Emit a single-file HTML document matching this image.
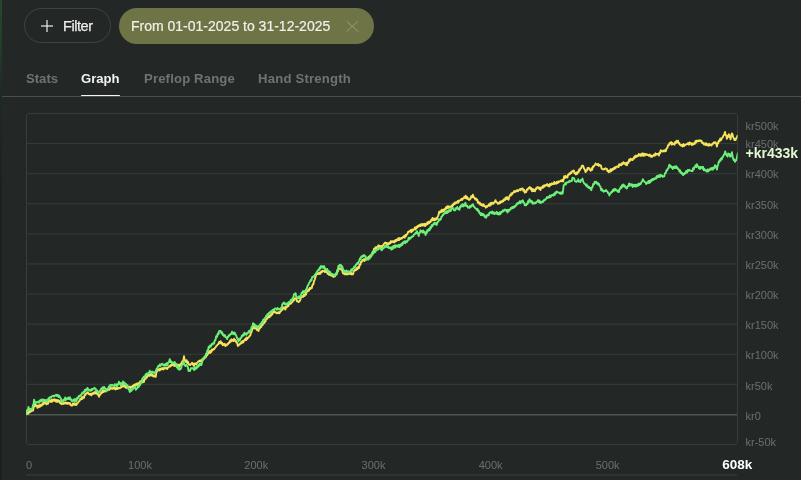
<!DOCTYPE html>
<html><head><meta charset="utf-8">
<style>
*{margin:0;padding:0;box-sizing:border-box}
html,body{width:801px;height:480px;overflow:hidden;background:#232826}
body{position:relative;-webkit-font-smoothing:antialiased;font-family:"Liberation Sans",Arial,sans-serif;color:#e8e8e6}
.strip{position:absolute;left:0;top:0;width:2px;height:480px;background:linear-gradient(#24472f 0px,#22402c 40px,#1e2a25 90px,#1b201f 200px,#1b201f 480px)}
.filter{position:absolute;left:24px;top:8px;width:87px;height:35px;border:1px solid #3f4442;border-radius:18px}
.filter .plus{position:absolute;left:16px;top:11px;width:12px;height:12px}
.filter .plus:before{content:"";position:absolute;left:5.1px;top:-0.2px;width:1.9px;height:12.4px;background:rgba(235,237,235,.6)}
.filter .plus:after{content:"";position:absolute;left:-0.2px;top:4.95px;width:12.4px;height:1.9px;background:rgba(235,237,235,.6)}
.filter span{will-change:transform;position:absolute;left:38.4px;top:8px;font-size:14.5px;letter-spacing:-0.45px;line-height:18px;color:#ededeb;-webkit-text-stroke:0.25px #ededeb}
.date{position:absolute;left:119px;top:8px;width:255px;height:36px;background:#6e7446;border-radius:18px}
.date span{will-change:transform;position:absolute;left:11.7px;top:10.1px;font-size:14px;line-height:17px;color:#f1f1ea;white-space:nowrap;-webkit-text-stroke:0.2px #f1f1ea}
.date .x{position:absolute;left:233.35px;top:18.25px;width:0;height:0}
.date .x:before,.date .x:after{content:"";position:absolute;left:-7.3px;top:-0.72px;width:14.6px;height:1.45px;background:#8f9566;transform:rotate(42deg)}
.date .x:after{transform:rotate(-42deg)}
.tab{will-change:transform;position:absolute;top:70.7px;font-size:13.1px;font-weight:bold;line-height:16px;color:#6f7472;white-space:nowrap}
.tab.on{color:#f2f2f0}
.sep{position:absolute;left:2px;top:96px;width:799px;height:1px;background:#4a4f4d}
.ul{position:absolute;left:81px;top:94.6px;width:39px;height:1.6px;background:#f4f4f2;border-radius:1px}
svg{position:absolute;left:0;top:0;will-change:transform}
</style></head><body>
<div class="strip"></div>
<div class="filter"><i class="plus"></i><span>Filter</span></div>
<div class="date"><span>From 01-01-2025 to 31-12-2025</span><i class="x"></i></div>
<div class="tab" style="left:26px">Stats</div>
<div class="tab on" style="left:81px">Graph</div>
<div class="tab" style="left:143.6px;letter-spacing:0.17px">Preflop Range</div>
<div class="tab" style="left:258px;letter-spacing:0.22px">Hand Strength</div>
<div class="sep"></div>
<div class="ul"></div>
<svg width="801" height="480" viewBox="0 0 801 480">
<rect x="26.5" y="113.5" width="711" height="331" rx="2" fill="none" stroke="#383d3b" stroke-width="1"/>
<line x1="26.5" y1="143.59" x2="737" y2="143.59" stroke="#383d3b" stroke-width="1"/>
<line x1="26.5" y1="173.68" x2="737" y2="173.68" stroke="#383d3b" stroke-width="1"/>
<line x1="26.5" y1="203.77" x2="737" y2="203.77" stroke="#383d3b" stroke-width="1"/>
<line x1="26.5" y1="233.86" x2="737" y2="233.86" stroke="#383d3b" stroke-width="1"/>
<line x1="26.5" y1="263.95" x2="737" y2="263.95" stroke="#383d3b" stroke-width="1"/>
<line x1="26.5" y1="294.04" x2="737" y2="294.04" stroke="#383d3b" stroke-width="1"/>
<line x1="26.5" y1="324.13" x2="737" y2="324.13" stroke="#383d3b" stroke-width="1"/>
<line x1="26.5" y1="354.22" x2="737" y2="354.22" stroke="#383d3b" stroke-width="1"/>
<line x1="26.5" y1="384.31" x2="737" y2="384.31" stroke="#383d3b" stroke-width="1"/>
<line x1="26.5" y1="414.80" x2="737" y2="414.80" stroke="#4f5452" stroke-width="1.6"/>
<line x1="26" y1="474.9" x2="737" y2="474.9" stroke="#333836" stroke-width="1.5"/>
<defs><clipPath id="c"><rect x="26" y="100" width="711.6" height="350"/></clipPath></defs>
<g clip-path="url(#c)">
<polyline points="26.2,414.2 27.0,414.0 27.8,412.2 28.5,413.6 29.2,410.8 30.0,412.1 30.8,410.9 31.5,411.3 32.2,410.3 33.0,410.7 33.8,406.8 34.5,406.5 35.2,403.8 36.0,405.9 36.8,405.6 37.5,407.9 38.2,405.4 39.0,407.1 39.8,405.1 40.5,406.5 41.2,404.5 42.0,405.5 42.8,403.3 43.5,404.3 44.2,401.4 45.0,403.3 45.8,402.6 46.5,404.4 47.2,402.3 48.0,403.8 48.8,401.0 49.5,401.5 50.2,400.6 51.0,401.9 51.8,399.5 52.5,401.5 53.2,399.6 54.0,400.6 54.8,399.3 55.5,401.4 56.2,399.8 57.0,402.0 57.8,399.9 58.5,401.5 59.2,400.7 60.0,403.1 60.8,402.2 61.5,404.2 62.2,403.3 63.0,404.1 63.8,402.6 64.5,403.6 65.2,402.4 66.0,403.6 66.8,402.5 67.5,403.8 68.2,402.7 69.0,403.8 69.8,402.9 70.5,404.9 71.2,405.5 72.0,405.6 72.8,403.4 73.5,404.8 74.2,403.2 75.0,404.9 75.8,403.6 76.5,405.0 77.2,403.1 78.0,402.9 78.8,401.4 79.5,400.8 80.2,399.0 80.9,399.5 81.6,397.7 82.3,399.0 83.0,396.9 84.0,397.8 84.8,394.4 85.5,394.9 86.2,393.2 87.0,393.2 87.8,392.2 88.5,393.9 89.2,393.6 90.0,394.7 90.8,393.7 91.5,395.3 92.2,393.2 93.0,394.1 93.8,392.6 94.5,393.5 95.2,391.6 96.0,393.6 96.8,392.7 97.5,394.5 98.2,394.0 99.0,396.8 99.8,394.4 100.5,394.6 101.2,392.1 102.0,392.9 102.8,390.6 103.5,392.1 104.2,390.3 105.0,391.5 105.8,390.0 106.5,390.7 107.2,389.1 108.0,390.0 108.8,387.9 109.5,389.8 110.2,387.6 111.0,388.8 111.8,388.0 112.5,388.8 113.2,387.7 114.0,388.8 114.8,387.6 115.5,389.4 116.2,387.8 117.0,389.1 117.8,387.8 118.5,388.6 119.2,387.8 120.0,388.2 120.8,387.1 121.5,387.2 122.2,385.6 123.0,386.6 123.8,384.6 124.5,386.8 125.2,385.8 126.0,388.0 126.8,386.4 127.5,387.1 128.2,386.8 129.0,387.5 129.8,386.6 130.5,388.2 131.2,386.7 132.0,387.6 132.8,385.7 133.5,386.7 134.2,384.6 135.0,385.8 135.8,384.1 136.5,385.3 137.2,383.3 138.0,385.3 138.8,383.0 139.5,383.9 140.2,381.2 141.0,382.8 141.8,380.4 142.5,382.4 143.2,379.9 144.0,381.9 144.8,378.4 145.7,378.8 146.3,376.8 146.9,377.6 147.6,375.4 148.2,375.5 148.8,374.7 149.4,376.0 150.1,374.2 150.7,375.2 151.3,373.9 151.9,375.7 152.6,374.6 153.2,376.4 153.8,376.0 154.4,376.4 155.1,375.3 155.7,376.8 156.5,371.8 157.3,371.1 157.9,369.3 158.6,370.3 159.2,369.1 159.8,370.4 160.4,368.7 161.1,369.5 161.7,368.2 162.3,369.0 162.9,368.1 163.6,369.5 164.2,368.0 164.8,368.1 165.4,367.9 166.1,368.6 166.7,367.9 167.3,368.9 168.2,367.1 169.0,366.8 169.6,365.8 170.2,366.5 170.9,364.9 171.5,365.5 172.1,363.9 172.8,364.9 173.4,364.5 174.0,365.8 174.6,364.3 175.2,366.0 175.9,365.0 176.5,365.9 177.1,364.3 177.8,366.0 178.4,364.8 179.0,366.7 179.6,364.7 180.2,365.9 180.9,363.4 181.5,363.9 182.3,361.2 183.2,361.1 184.0,356.3 184.6,360.0 185.2,360.4 185.9,362.0 186.6,360.2 187.3,363.0 188.0,361.8 188.7,364.6 189.4,364.5 190.1,365.2 190.8,364.0 191.5,363.7 192.1,362.7 192.8,364.6 193.4,363.7 194.0,366.1 194.6,363.5 195.2,364.3 195.9,363.2 196.5,364.2 197.1,362.7 197.8,362.3 198.4,361.2 199.0,361.2 199.6,360.6 200.2,361.5 200.9,360.3 201.5,361.6 202.2,359.2 202.9,359.8 203.6,358.3 204.3,358.8 205.1,356.9 205.8,357.3 206.5,355.4 207.2,355.3 208.0,353.7 208.7,353.1 209.3,351.2 210.0,353.0 210.6,350.8 211.3,351.9 211.9,349.5 212.6,350.3 213.4,349.0 214.1,349.3 214.8,348.0 215.5,347.4 216.2,346.1 217.0,345.5 217.8,344.3 218.5,344.1 219.2,341.9 220.0,343.0 220.7,341.2 221.4,343.8 222.1,342.8 222.8,345.2 223.4,344.1 224.1,344.7 224.7,343.8 225.3,346.0 226.0,345.2 226.7,345.4 227.3,343.9 228.0,344.2 228.7,342.5 229.4,342.8 230.1,340.5 230.7,341.8 231.4,339.3 232.1,340.7 232.8,339.7 233.4,341.1 234.1,338.7 234.8,340.8 235.6,340.1 236.3,342.4 237.1,342.9 237.9,346.0 238.6,344.6 239.4,344.7 240.1,343.4 240.7,343.8 241.4,341.7 242.0,343.0 242.7,340.9 243.3,342.4 244.0,340.3 244.8,340.4 245.5,338.6 246.2,340.1 246.8,337.5 247.4,338.9 248.1,337.6 248.8,337.4 249.5,335.9 250.2,335.7 250.9,333.0 251.6,331.7 252.4,328.1 253.1,328.4 253.8,326.3 254.4,328.4 255.1,327.8 255.8,328.8 256.5,327.9 257.1,330.2 257.8,329.2 258.5,331.0 259.2,328.1 259.9,328.4 260.6,326.4 261.3,327.0 262.0,324.5 262.7,325.0 263.4,323.2 264.1,323.3 264.7,321.1 265.4,321.7 266.1,319.3 266.8,319.1 267.4,317.2 268.1,317.7 268.9,315.9 269.6,317.2 270.2,315.1 270.9,315.8 271.6,313.2 272.3,314.4 272.9,312.0 273.6,312.4 274.3,310.7 275.1,312.4 275.8,312.1 276.6,313.2 277.3,312.8 278.0,313.3 278.8,312.1 279.5,313.2 280.2,311.8 280.9,311.3 281.6,309.2 282.4,309.9 283.1,307.2 283.9,308.5 284.6,307.2 285.4,309.5 286.1,306.8 286.9,307.2 287.6,305.7 288.3,306.2 289.0,304.1 289.7,304.1 290.4,302.5 291.1,303.5 291.9,302.1 292.6,301.9 293.3,300.0 294.0,300.3 294.7,298.2 295.4,298.4 296.2,298.6 296.9,301.2 297.7,301.2 298.5,302.0 299.4,301.4 300.2,300.1 301.0,297.4 301.8,297.0 302.5,296.2 303.2,296.8 303.9,294.5 304.6,296.0 305.3,294.1 306.0,294.5 306.8,291.1 307.5,291.3 308.2,289.6 308.9,290.8 309.6,288.0 310.4,289.1 311.1,287.6 311.8,288.0 312.6,284.4 313.3,284.5 314.0,281.2 314.8,279.6 315.6,276.4 316.4,274.3 317.1,273.2 317.7,274.1 318.4,273.0 319.1,274.0 319.8,272.5 320.4,273.8 321.1,271.5 321.8,272.3 322.4,270.7 323.1,271.1 323.8,270.8 324.6,272.0 325.3,270.6 326.0,272.0 326.8,271.2 327.6,273.9 328.4,273.5 329.1,274.9 329.9,273.8 330.6,275.3 331.3,274.9 332.0,276.0 332.7,274.9 333.4,276.9 334.1,275.4 334.9,276.5 335.7,274.0 336.5,274.6 337.3,272.3 338.1,271.0 338.9,268.3 339.7,268.9 340.5,268.5 341.3,269.9 342.1,270.0 342.9,273.3 343.7,272.9 344.4,274.3 345.1,273.4 345.9,274.3 346.6,273.3 347.3,274.5 348.1,273.5 348.8,273.9 349.5,272.4 350.2,274.1 350.9,272.4 351.7,274.4 352.4,273.7 353.0,274.3 353.7,271.2 354.3,270.9 355.1,269.3 355.9,270.3 356.7,268.1 357.5,269.3 358.3,266.6 359.1,267.9 359.7,264.5 360.4,264.7 361.0,261.8 361.7,261.9 362.4,259.9 363.2,260.6 363.9,259.3 364.7,260.9 365.5,258.1 366.2,259.6 367.1,258.0 367.8,258.5 368.6,256.7 369.4,257.4 370.1,255.6 370.8,256.5 371.5,254.6 372.1,253.6 372.8,251.5 373.4,252.3 374.1,248.6 374.8,249.1 375.5,247.3 376.2,248.4 376.9,246.9 377.7,246.9 378.4,245.3 379.1,247.5 379.8,245.8 380.6,247.4 381.3,246.1 382.0,247.0 382.7,245.4 383.4,245.0 384.1,243.6 384.8,243.0 385.5,242.5 386.2,243.8 386.9,243.0 387.6,244.5 388.3,243.5 389.0,244.1 389.6,242.4 390.3,243.2 391.0,241.1 391.8,242.2 392.5,241.3 393.3,242.2 394.0,240.9 394.7,242.3 395.4,240.0 396.2,241.1 396.9,239.5 397.6,240.3 398.3,238.1 399.1,240.2 399.8,238.1 400.6,239.0 401.3,237.9 402.0,238.4 402.6,237.3 403.3,237.4 404.0,236.1 404.7,237.7 405.4,235.0 406.1,236.0 406.8,234.3 407.4,234.1 408.0,231.9 408.6,232.0 409.3,231.0 410.0,231.5 410.7,230.1 411.4,232.2 412.1,229.5 412.8,230.9 413.4,229.6 414.1,229.6 414.8,227.6 415.5,229.5 416.2,227.0 416.9,227.9 417.6,225.9 418.2,226.7 418.9,225.2 419.6,226.3 420.3,224.5 421.0,225.9 421.7,224.1 422.4,225.4 423.1,224.1 423.8,225.5 424.4,223.7 425.1,226.1 425.8,224.1 426.5,224.8 427.2,222.4 427.9,224.0 428.6,221.6 429.2,223.2 429.9,221.4 430.6,221.9 431.2,219.7 431.9,220.4 432.5,217.9 433.1,220.4 433.8,218.7 434.4,220.2 435.0,218.6 435.6,220.0 436.2,218.1 436.9,219.1 437.5,217.1 438.4,215.3 439.2,211.7 439.8,213.0 440.4,211.3 441.1,212.0 441.7,209.7 442.4,211.7 443.1,209.8 443.9,211.2 444.6,208.9 445.3,209.4 446.0,207.2 446.7,208.4 447.4,206.1 448.1,208.1 448.9,206.3 449.6,207.6 450.2,206.6 450.9,206.8 451.5,205.7 452.1,206.5 452.7,204.5 453.4,205.3 454.0,203.3 454.6,204.1 455.2,202.3 455.9,203.3 456.5,202.3 457.1,202.7 457.7,201.1 458.4,202.6 459.0,200.5 459.6,200.8 460.2,200.2 460.9,199.8 461.5,198.8 462.1,200.0 462.8,198.5 463.6,198.5 464.3,196.8 465.0,197.9 465.7,195.7 466.4,198.5 467.1,196.9 467.7,199.0 468.4,198.4 469.0,200.0 469.6,199.6 470.4,198.9 471.2,196.2 472.1,197.2 472.9,194.7 473.8,197.5 474.6,197.8 475.3,199.4 476.0,198.5 476.7,200.2 477.3,199.6 477.9,202.9 478.6,202.2 479.2,203.6 479.8,202.6 480.4,204.9 481.1,204.0 481.7,205.3 482.3,204.4 482.9,206.0 483.6,204.3 484.2,206.0 485.0,206.0 485.8,207.7 486.4,206.2 487.1,206.9 487.7,205.8 488.3,205.9 489.0,204.2 489.8,205.8 490.5,203.0 491.1,204.8 491.8,202.7 492.4,203.7 493.0,203.0 493.6,203.7 494.2,202.2 494.9,201.8 495.5,200.2 496.2,202.1 497.0,202.3 497.8,203.8 498.5,202.9 499.1,203.5 499.8,201.8 500.4,202.9 501.0,201.3 501.8,202.0 502.5,200.6 503.2,201.4 504.0,199.3 504.8,200.2 505.5,197.7 506.2,199.1 507.0,197.1 507.8,199.2 508.5,199.7 509.5,196.1 510.1,194.9 510.8,195.6 511.4,193.3 512.0,194.5 512.8,192.6 513.5,192.6 514.2,191.0 515.0,192.1 515.8,190.8 516.5,191.2 517.2,190.0 518.0,191.2 518.7,190.1 519.3,190.0 520.0,189.1 520.7,190.2 521.3,188.6 522.0,188.7 522.7,188.5 523.4,190.9 524.1,189.9 524.8,192.7 525.5,191.6 526.2,192.0 526.9,189.5 527.6,189.7 528.3,188.4 529.0,187.7 529.8,187.1 530.5,189.3 531.2,188.1 532.0,191.3 532.8,188.9 533.5,191.1 534.2,189.8 535.0,191.3 535.8,188.4 536.5,188.9 537.2,187.2 538.0,187.3 538.6,187.6 539.2,188.9 539.9,187.6 540.5,190.1 541.2,187.5 542.0,187.9 542.8,186.1 543.5,187.6 544.2,185.1 545.0,186.3 545.8,185.0 546.5,185.2 547.2,184.0 548.0,185.9 548.5,184.9 549.1,186.5 549.9,183.9 550.7,185.3 551.5,183.4 552.2,184.3 552.9,183.4 553.6,184.1 554.3,182.0 555.0,183.7 555.7,182.7 556.4,183.8 557.1,181.6 557.8,183.0 558.5,181.4 559.2,181.9 559.9,181.1 560.6,181.2 561.2,180.3 561.9,181.2 562.6,179.7 563.2,181.4 564.2,176.3 564.9,178.0 565.5,176.0 566.1,177.4 566.8,176.6 567.4,177.4 568.1,174.6 568.7,174.8 569.4,173.3 570.0,174.1 570.8,172.3 571.5,173.0 572.3,171.0 573.1,170.9 573.8,170.5 574.5,173.2 575.2,172.7 575.9,174.4 576.6,172.6 577.2,174.0 577.9,171.8 578.6,172.3 579.2,169.5 579.9,170.2 580.5,168.1 581.2,168.1 581.9,165.8 582.5,165.5 583.2,166.0 584.0,168.5 584.8,169.7 585.6,172.1 586.2,170.3 586.9,170.6 587.6,167.9 588.2,168.3 588.9,167.9 589.5,169.7 590.1,169.6 590.8,170.8 591.5,168.3 592.2,169.8 592.9,166.5 593.5,167.0 594.2,165.6 594.9,165.0 595.5,163.5 596.1,164.6 596.8,164.3 597.5,165.0 598.1,163.8 598.8,165.9 599.5,164.8 600.2,165.2 600.9,165.5 601.6,168.5 602.2,169.0 603.1,169.5 604.0,169.0 604.7,169.3 605.3,168.3 606.0,168.7 606.7,168.6 607.4,171.1 608.0,170.5 608.7,172.2 609.4,170.6 610.1,171.8 610.7,169.2 611.4,171.0 612.1,168.9 612.8,169.9 613.5,168.2 614.2,169.0 614.8,167.2 615.5,168.3 616.2,166.8 617.0,166.8 617.7,166.3 618.5,167.0 619.2,164.1 620.0,165.3 620.7,164.3 621.4,165.2 622.0,163.1 622.7,164.0 623.4,162.2 624.1,163.4 624.8,163.1 625.5,164.7 626.2,162.8 626.9,165.3 627.7,162.3 628.4,162.9 629.2,159.4 629.9,160.9 630.6,158.7 631.2,159.8 631.9,159.2 632.6,160.0 633.3,158.3 634.0,158.6 634.6,156.3 635.3,157.4 636.0,155.6 636.7,156.7 637.4,155.4 638.1,156.0 638.8,154.0 639.5,155.6 640.2,154.4 640.9,155.9 641.5,153.6 642.2,155.6 642.9,153.3 643.6,155.8 644.3,153.8 644.9,155.6 645.6,153.9 646.3,154.8 647.0,154.3 647.7,155.1 648.4,154.9 649.1,155.8 649.8,154.6 650.5,156.6 651.2,155.6 651.9,156.9 652.6,155.8 653.3,155.9 654.0,154.6 654.8,155.8 655.5,153.3 656.2,154.7 656.9,153.9 657.5,154.3 658.2,153.8 658.9,155.5 659.5,152.7 660.1,153.2 660.7,150.2 661.4,151.3 662.1,150.7 662.8,151.5 663.5,150.6 664.3,151.4 665.0,150.1 665.8,151.2 666.6,148.4 667.3,148.0 668.1,145.1 668.9,145.2 669.6,143.0 670.4,143.6 671.1,142.1 671.8,144.7 672.4,142.9 673.1,144.0 673.8,143.7 674.5,144.7 675.2,141.9 675.9,143.1 676.6,140.8 677.3,142.1 678.0,140.7 678.6,143.6 679.3,143.0 680.0,144.8 680.6,145.1 681.3,145.8 681.9,144.8 682.7,146.5 683.5,144.1 684.2,146.1 685.0,144.8 685.8,144.7 686.5,144.1 687.2,144.1 688.0,143.0 688.8,144.7 689.5,142.5 690.2,143.9 691.0,143.0 691.8,145.0 692.5,143.5 693.2,144.5 694.0,143.1 694.8,143.9 695.5,141.0 696.2,142.5 697.0,140.6 697.8,141.2 698.5,140.6 699.2,141.1 700.0,140.2 700.8,141.3 701.5,140.8 702.3,143.2 703.1,142.7 703.9,144.4 704.6,143.5 705.4,145.0 706.1,143.2 706.9,145.2 707.7,144.2 708.5,145.7 709.2,143.8 710.0,145.4 710.8,144.6 711.5,145.5 712.3,143.8 713.1,143.9 713.7,142.6 714.4,143.0 715.0,142.1 715.6,142.3 716.2,143.6 716.9,146.6 717.5,143.3 718.1,143.4 718.8,140.6 719.5,141.3 720.3,138.4 721.1,140.2 721.9,138.1 722.7,137.3 723.5,135.4 724.2,134.8 725.0,131.9 725.6,135.1 726.3,135.5 726.9,138.8 727.5,135.8 728.1,137.0 728.8,134.2 729.4,136.9 730.0,137.3 730.6,139.4 731.2,135.1 731.9,133.4 732.5,134.2 733.1,137.1 733.8,138.3 734.4,140.0 735.0,138.9 735.6,140.1 736.2,138.1 736.9,137.5 737.5,135.6" fill="none" stroke="#f5e35c" stroke-width="1.9" stroke-linejoin="round" stroke-linecap="round"/>
<polyline points="26.2,414.2 26.2,411.9 27.0,410.3 27.8,410.6 28.5,407.0 29.2,409.8 30.0,408.8 30.8,409.5 31.5,408.7 32.2,408.9 33.0,405.0 33.5,404.1 34.1,399.8 34.7,401.9 35.2,401.8 36.0,402.8 36.8,402.1 37.5,402.5 38.2,401.6 39.0,402.8 39.8,400.4 40.5,401.6 41.2,399.6 42.0,401.5 42.8,399.4 43.5,400.0 44.2,399.7 45.0,401.0 45.8,400.1 46.5,401.8 47.2,399.6 48.0,399.8 48.8,398.0 49.5,399.0 50.2,397.0 51.0,397.3 51.8,396.3 52.5,396.0 53.2,395.7 54.0,396.5 54.8,395.5 55.5,395.5 56.2,394.7 57.0,396.0 57.8,394.8 58.5,397.0 59.2,395.7 60.0,397.4 60.8,398.3 61.5,401.8 62.2,400.3 63.0,401.4 63.8,399.5 64.5,400.3 65.2,397.5 66.0,399.9 66.8,398.4 67.5,398.9 68.2,397.6 69.0,399.1 69.8,397.2 70.5,399.7 71.2,399.2 72.0,401.3 72.8,400.2 73.5,400.8 74.2,399.2 75.0,401.3 75.8,398.9 76.5,401.1 77.2,397.7 78.0,398.4 78.8,396.0 79.5,396.4 80.2,395.2 81.0,395.9 81.8,393.2 82.5,393.5 83.2,392.1 84.0,392.7 84.8,389.9 85.5,391.2 86.1,389.1 86.8,390.2 87.4,387.9 88.0,389.6 88.6,389.3 89.2,390.7 90.0,390.1 90.8,390.8 91.5,389.1 92.2,390.0 93.0,388.7 93.8,388.8 94.5,387.8 95.1,388.8 95.8,389.0 96.4,391.0 97.1,390.3 97.9,392.3 98.6,391.9 99.2,392.0 99.9,390.7 100.5,390.4 101.2,388.5 102.0,389.3 102.8,387.2 103.5,388.8 104.2,387.0 105.0,388.4 105.8,388.8 106.5,391.4 107.2,389.3 108.0,389.0 108.8,386.6 109.5,387.9 110.2,385.0 111.0,385.9 111.8,384.7 112.5,385.6 113.2,385.4 114.0,386.1 114.8,384.3 115.5,385.6 116.2,384.3 117.0,386.6 117.6,384.2 118.3,384.6 118.9,381.7 119.5,383.9 120.1,383.1 120.8,385.5 121.5,383.1 122.2,384.4 123.0,381.5 123.8,384.3 124.5,382.6 125.2,383.9 126.0,384.0 126.8,385.5 127.5,385.3 128.2,388.8 129.0,389.5 129.8,392.0 130.5,389.9 131.2,391.0 132.0,389.5 132.8,389.5 133.5,387.5 134.2,387.8 135.0,387.0 135.8,389.8 136.5,388.5 137.2,388.5 138.0,385.7 138.8,387.0 139.5,384.7 140.2,385.0 141.0,382.0 141.8,382.0 142.5,378.3 143.2,377.8 144.0,376.5 144.8,377.4 145.7,374.1 146.3,375.3 146.9,373.4 147.6,373.9 148.2,373.0 149.0,372.9 149.8,370.7 150.4,373.2 151.1,371.9 151.7,372.8 152.3,371.6 152.9,372.5 153.6,372.2 154.2,373.2 154.8,372.3 155.7,371.3 156.5,369.0 157.3,368.2 158.2,366.0 159.0,366.4 159.8,364.4 160.5,365.9 161.2,364.1 161.9,364.3 162.6,363.8 163.3,365.5 164.0,365.0 164.7,365.7 165.3,364.1 166.0,365.7 166.7,363.1 167.5,364.9 168.2,362.4 169.0,362.2 169.8,359.1 170.7,362.3 171.5,361.6 172.3,363.2 173.2,362.6 173.9,363.2 174.6,361.9 175.2,363.1 176.1,363.9 176.9,367.6 177.6,366.3 178.3,369.3 179.0,367.8 179.6,369.7 180.2,369.3 181.1,368.3 181.9,364.7 182.8,364.1 183.6,361.4 184.2,364.4 184.8,365.5 185.5,366.0 186.2,364.7 186.9,365.5 187.8,367.0 188.6,371.0 189.4,370.7 190.1,371.0 190.8,368.3 191.5,368.4 192.1,367.9 192.8,368.5 193.4,368.5 194.0,370.0 194.6,367.6 195.2,369.3 195.9,367.1 196.5,368.5 197.1,366.1 197.8,367.2 198.4,365.0 199.0,366.0 199.6,363.5 200.2,365.0 200.9,364.1 201.5,364.9 202.2,361.2 202.9,360.2 203.6,357.5 204.2,357.6 204.8,356.2 205.4,356.9 206.1,353.5 206.7,353.6 207.4,350.1 208.0,350.5 208.7,346.7 209.4,347.7 210.1,345.4 210.8,346.6 211.7,344.0 212.5,344.6 213.3,342.8 214.1,343.6 214.8,340.1 215.5,340.2 216.2,336.1 217.0,336.9 217.8,333.5 218.5,334.2 219.2,331.0 220.0,330.9 220.7,331.0 221.4,333.2 222.1,332.2 222.8,335.0 223.5,334.6 224.2,336.3 224.9,335.0 225.6,337.2 226.4,337.5 227.1,339.1 227.8,336.5 228.4,337.0 229.1,335.0 229.8,335.4 230.5,333.9 231.3,334.0 232.0,331.6 232.7,333.9 233.3,332.7 234.0,334.2 234.7,332.6 235.4,334.6 236.1,335.0 236.8,337.5 237.7,338.5 238.5,341.5 239.2,339.3 239.8,340.1 240.5,337.9 241.2,338.0 241.8,335.7 242.5,336.2 243.1,334.4 243.8,335.4 244.4,332.8 245.1,334.4 245.9,333.4 246.6,334.7 247.3,332.9 248.0,333.0 248.8,331.0 249.5,332.5 250.2,330.3 250.9,330.3 251.6,326.9 252.4,327.1 253.1,323.2 253.8,324.9 254.5,324.1 255.2,326.4 256.0,325.6 256.7,327.1 257.4,326.2 258.1,327.6 258.9,325.6 259.6,325.8 260.3,324.0 261.0,324.6 261.8,321.9 262.5,322.8 263.2,319.8 264.0,320.4 264.7,318.1 265.5,317.9 266.2,315.9 266.9,315.6 267.6,313.9 268.3,314.7 269.0,312.7 269.7,313.3 270.4,311.5 271.1,312.7 271.8,310.8 272.5,310.7 273.2,309.5 274.0,310.1 274.7,308.7 275.5,308.5 276.3,308.5 277.0,309.7 277.8,308.1 278.6,309.3 279.3,309.0 280.1,309.9 280.8,308.0 281.6,308.4 282.3,304.3 283.1,303.5 283.8,302.4 284.6,304.0 285.3,303.4 286.0,304.8 286.7,303.5 287.4,304.2 288.2,302.5 288.9,302.6 289.6,301.4 290.3,302.1 291.0,299.7 291.7,300.3 292.4,298.6 293.2,297.8 294.0,294.5 294.8,293.8 295.6,293.2 296.3,297.0 297.1,297.1 297.9,298.4 298.6,296.5 299.4,298.3 300.1,296.0 300.9,296.0 301.6,292.7 302.4,293.1 303.1,291.0 303.9,292.7 304.6,291.1 305.3,292.0 306.1,289.4 306.8,288.2 307.6,285.7 308.4,285.0 309.1,282.8 309.9,281.9 310.6,280.0 311.4,280.6 312.1,277.1 312.9,277.2 313.6,276.1 314.4,276.4 315.1,274.3 315.9,273.9 316.7,272.1 317.5,271.2 318.3,269.8 319.0,270.0 319.7,267.5 320.3,268.7 321.0,266.0 321.7,267.3 322.5,266.3 323.3,267.9 324.1,266.1 324.9,269.0 325.7,268.7 326.5,269.8 327.2,269.0 327.9,271.5 328.6,270.8 329.3,272.7 330.0,271.8 330.8,273.8 331.5,273.6 332.2,274.6 333.0,274.2 333.8,275.6 334.6,274.7 335.2,275.5 335.9,273.2 336.5,274.2 337.1,270.2 337.8,270.0 338.4,265.9 339.1,266.8 339.7,264.7 340.4,265.7 341.0,264.9 341.7,268.0 342.3,266.5 342.9,268.9 343.6,270.0 344.2,272.2 345.0,270.8 345.8,272.1 346.6,270.6 347.3,271.9 348.1,271.1 348.8,272.4 349.5,271.7 350.3,271.7 351.1,269.5 351.9,270.8 352.7,268.6 353.5,268.3 354.3,266.5 355.1,266.9 355.9,264.8 356.7,264.2 357.3,263.0 358.0,263.8 358.6,261.8 359.2,261.0 359.9,258.4 360.5,259.1 361.3,256.4 362.1,257.2 362.9,255.5 363.5,256.2 364.2,255.0 364.8,256.0 365.6,256.4 366.4,259.2 367.2,258.3 368.0,259.8 368.8,258.3 369.6,258.6 370.4,256.0 371.2,256.7 372.0,253.3 372.7,254.6 373.4,251.8 374.1,252.7 374.8,250.2 375.4,252.0 376.1,250.1 376.8,250.1 377.5,248.9 378.1,249.5 378.7,248.2 379.3,248.4 379.9,247.9 380.6,249.3 381.2,248.9 381.9,250.2 382.5,248.4 383.2,248.6 383.9,247.2 384.5,247.6 385.1,245.7 385.7,246.8 386.4,245.8 387.1,247.0 387.8,245.9 388.5,247.9 389.2,247.4 389.9,248.2 390.5,247.2 391.2,249.5 391.9,247.1 392.6,249.0 393.3,246.0 394.0,247.8 394.7,245.4 395.4,247.6 396.0,245.2 396.7,246.3 397.4,245.5 398.1,246.9 398.8,244.8 399.5,247.0 400.3,244.5 401.0,245.8 401.8,243.6 402.5,244.7 403.1,242.1 403.8,242.9 404.5,241.3 405.3,243.2 406.0,241.2 406.8,242.1 407.4,240.6 408.0,240.5 408.6,237.7 409.3,239.4 410.0,237.8 410.7,238.4 411.4,236.8 412.1,237.0 412.8,236.0 413.4,236.1 414.1,234.4 414.8,234.2 415.5,233.0 416.2,233.4 416.9,231.1 417.5,233.0 418.1,233.8 418.7,236.1 419.3,232.9 419.9,232.7 420.5,230.1 421.2,231.4 421.9,230.9 422.6,232.6 423.3,230.6 424.1,232.7 424.8,232.1 425.6,235.0 426.2,231.9 426.8,233.0 427.4,230.0 428.2,230.9 428.9,228.9 429.7,230.3 430.4,227.0 431.1,228.0 431.8,224.9 432.5,226.2 433.1,224.1 433.8,224.3 434.4,222.7 435.0,224.3 435.9,223.1 436.7,224.9 437.5,222.0 438.3,221.9 438.9,219.1 439.6,220.3 440.2,218.9 440.8,219.4 441.4,216.7 442.1,216.5 442.7,214.8 443.3,215.0 443.9,213.6 444.6,213.3 445.2,212.2 445.8,213.3 446.4,211.1 447.1,213.1 447.7,211.0 448.3,212.2 448.9,210.3 449.6,211.3 450.2,209.5 450.8,210.9 451.6,207.7 452.5,208.5 453.2,208.1 453.9,210.2 454.6,210.3 455.3,210.3 456.0,207.9 456.7,208.4 457.4,207.0 458.1,209.1 458.8,208.7 459.4,209.8 460.0,206.6 460.6,207.3 461.2,205.1 461.9,206.0 462.5,204.2 463.1,206.5 463.8,204.4 464.6,205.8 465.4,202.7 466.2,206.1 467.1,205.5 467.9,207.6 468.8,207.0 469.4,207.9 470.1,205.9 470.8,206.9 471.5,205.2 472.2,205.7 472.9,204.3 473.8,206.6 474.6,207.2 475.3,208.2 476.0,208.5 476.7,209.7 477.4,208.8 478.1,211.3 478.8,210.6 479.4,213.4 480.1,212.9 480.8,215.1 481.4,213.3 482.1,215.2 482.7,213.7 483.3,215.3 484.0,214.6 484.7,217.0 485.4,216.3 486.1,217.8 486.8,215.1 487.5,215.7 488.1,214.6 488.8,215.2 489.4,212.9 490.0,212.5 490.8,212.1 491.5,213.2 492.2,211.6 493.0,213.6 493.8,212.2 494.5,214.1 495.2,212.8 496.0,213.6 496.8,211.8 497.5,214.2 498.2,213.1 499.0,214.6 499.8,212.2 500.5,214.0 501.2,212.0 502.0,212.2 502.8,210.4 503.5,211.3 504.2,209.8 505.0,209.8 505.6,209.6 506.2,211.0 506.9,209.9 507.5,212.5 508.1,209.8 508.8,211.2 509.4,209.8 510.0,210.0 510.8,208.1 511.5,208.7 512.2,207.0 513.0,208.2 513.8,206.4 514.5,207.3 515.2,205.6 516.0,205.8 516.8,203.5 517.5,204.3 518.2,202.7 519.0,203.3 519.8,201.2 520.5,203.3 521.2,201.2 522.0,201.7 522.8,200.3 523.5,202.6 524.2,202.8 524.8,205.3 525.5,205.0 526.1,205.3 526.8,203.7 527.4,204.1 528.0,201.1 528.8,202.4 529.5,199.2 530.1,201.3 530.8,200.7 531.4,202.4 532.0,201.2 532.8,203.7 533.5,202.7 534.2,203.6 535.0,202.5 535.8,203.2 536.5,201.8 537.2,201.6 538.0,200.1 538.8,202.1 539.5,200.6 540.2,203.1 541.0,202.1 541.8,202.6 542.5,201.3 543.2,201.7 544.0,199.9 544.8,200.3 545.5,198.9 546.2,198.9 547.0,197.0 547.8,198.0 548.6,196.8 549.2,197.4 549.9,195.6 550.6,197.2 551.2,195.2 552.0,195.6 552.8,194.7 553.5,195.6 554.3,193.4 554.9,194.8 555.6,192.1 556.2,193.2 556.9,191.6 557.5,192.2 558.1,192.1 558.8,192.9 559.5,192.8 560.1,193.7 560.8,192.5 561.4,193.8 562.1,192.0 562.7,193.5 563.7,185.1 564.5,184.9 565.3,183.0 565.9,184.5 566.6,182.4 567.2,182.5 567.9,182.1 568.7,182.2 569.5,180.8 570.2,181.6 571.0,181.0 571.8,181.0 572.5,177.7 573.3,178.3 574.1,178.2 574.9,181.0 575.7,181.6 576.4,181.9 577.0,180.9 577.6,181.0 578.3,179.3 579.0,181.7 579.7,181.3 580.4,182.0 581.1,179.9 581.8,180.1 582.5,178.6 583.2,181.6 584.0,183.2 584.6,183.9 585.3,184.2 586.0,185.4 586.6,184.4 587.3,186.9 588.0,186.2 588.7,187.8 589.4,187.1 590.0,188.6 590.6,188.0 591.3,190.2 591.9,187.1 592.6,187.2 593.2,183.9 593.9,184.4 594.7,181.7 595.5,182.7 596.2,181.7 596.9,183.7 597.6,182.7 598.3,184.7 598.9,183.8 599.6,185.8 600.4,186.7 601.2,190.4 601.9,188.9 602.5,190.9 603.1,190.6 603.8,191.8 604.5,190.7 605.2,191.1 606.0,190.1 606.7,191.3 607.4,191.4 608.0,193.1 608.7,193.2 609.4,195.5 610.1,193.5 610.8,193.3 611.4,191.8 612.1,192.1 612.8,190.1 613.5,191.0 614.1,188.9 614.8,190.6 615.5,189.1 616.2,190.3 616.8,190.1 617.5,191.5 618.2,190.6 618.9,192.1 619.5,189.2 620.0,189.0 620.7,187.1 621.4,188.0 622.0,185.3 622.7,186.4 623.4,184.4 624.1,186.3 624.8,185.6 625.5,187.8 626.2,187.3 626.9,188.5 627.7,186.2 628.4,186.0 629.2,183.4 629.9,185.7 630.6,184.2 631.2,185.3 631.9,184.3 632.6,187.0 633.3,184.8 633.9,186.0 634.6,184.8 635.2,186.6 635.9,184.8 636.5,186.4 637.2,184.5 637.9,185.7 638.6,183.7 639.2,185.2 639.9,183.6 640.6,184.2 641.4,182.1 642.1,181.5 642.9,179.2 643.6,180.8 644.3,181.4 644.9,182.2 645.6,182.5 646.3,184.0 647.0,182.5 647.7,183.0 648.4,181.0 649.1,183.1 649.8,180.7 650.5,182.2 651.2,179.7 651.8,180.7 652.5,179.0 653.2,180.0 653.9,178.5 654.6,179.2 655.3,178.0 656.0,178.7 656.7,176.1 657.4,177.4 658.1,175.6 658.7,176.9 659.4,175.2 660.1,176.9 660.8,174.8 661.5,176.0 662.1,175.6 662.8,176.9 663.5,176.2 664.3,176.2 665.0,173.1 665.8,173.1 666.5,170.2 667.2,170.4 667.9,168.4 668.6,168.1 669.3,164.7 670.0,166.4 670.7,165.7 671.3,167.5 672.0,167.0 672.7,169.0 673.4,166.8 674.1,167.9 674.7,166.5 675.4,168.0 676.1,166.2 676.8,168.1 677.4,167.5 678.0,169.1 678.7,169.1 679.4,171.5 680.0,170.1 680.6,172.8 681.2,172.1 681.9,173.8 682.5,173.1 683.1,175.2 683.8,173.8 684.4,174.2 685.0,172.7 685.6,173.2 686.2,171.0 687.0,172.6 687.8,170.0 688.6,170.9 689.4,169.7 690.0,170.6 690.6,170.6 691.3,171.0 691.9,170.9 692.5,171.2 693.1,168.3 693.8,169.2 694.4,166.9 695.0,167.0 695.6,165.1 696.3,167.0 696.9,164.2 697.5,166.1 698.1,166.2 698.8,168.2 699.4,167.1 700.0,169.0 700.6,166.9 701.3,167.8 701.9,166.9 702.5,168.7 703.1,167.0 703.8,170.2 704.4,169.0 705.2,170.6 706.0,170.2 706.7,171.6 707.5,169.5 708.3,171.4 709.0,169.4 709.8,170.1 710.6,168.3 711.4,169.4 712.2,167.7 713.0,169.7 713.8,167.4 714.4,168.1 715.0,165.2 715.6,165.8 716.2,166.4 716.9,169.6 717.5,166.0 718.1,164.8 718.8,161.5 719.4,162.0 720.0,159.8 720.6,160.5 721.2,158.1 721.9,159.3 722.5,157.1 723.1,156.7 723.8,154.8 724.5,154.3 725.2,151.5 726.1,154.7 726.9,155.5 727.5,156.6 728.1,153.5 728.8,153.9 729.4,154.0 730.0,156.5 730.6,156.6 731.2,155.3 731.9,152.2 732.5,156.1 733.1,158.4 733.7,160.1 734.4,159.5 735.0,161.8 735.6,160.2 736.3,160.2 736.9,157.6 737.8,153.1" fill="none" stroke="#6cf07a" stroke-width="1.9" stroke-linejoin="round" stroke-linecap="round"/>
</g>
<g font-family="Liberation Sans, Arial, sans-serif" font-size="11" fill="#6b706e">
<text x="745.5" y="129.6">kr500k</text>
<text x="745.5" y="147.6">kr450k</text>
<text x="745.5" y="177.6">kr400k</text>
<text x="745.5" y="208.5">kr350k</text>
<text x="745.5" y="238.5">kr300k</text>
<text x="745.5" y="268.6">kr250k</text>
<text x="745.5" y="298.8">kr200k</text>
<text x="745.5" y="328.8">kr150k</text>
<text x="745.5" y="358.9">kr100k</text>
<text x="745.5" y="389.7">kr50k</text>
<text x="745.5" y="419.7">kr0</text>
<text x="745.5" y="445.5">kr-50k</text>
<text x="26" y="469.2" text-anchor="start">0</text>
<text x="140" y="469.2" text-anchor="middle">100k</text>
<text x="256.3" y="469.2" text-anchor="middle">200k</text>
<text x="373.5" y="469.2" text-anchor="middle">300k</text>
<text x="490.6" y="469.2" text-anchor="middle">400k</text>
<text x="607.6" y="469.2" text-anchor="middle">500k</text>
</g>
<text x="745.5" y="157.6" font-family="Liberation Sans, Arial, sans-serif" font-size="14" font-weight="bold" fill="#e2f7d3">+kr433k</text>
<text x="737.3" y="468.8" text-anchor="middle" font-family="Liberation Sans, Arial, sans-serif" font-size="13.5" font-weight="bold" fill="#ffffff">608k</text>
</svg>
</body></html>
